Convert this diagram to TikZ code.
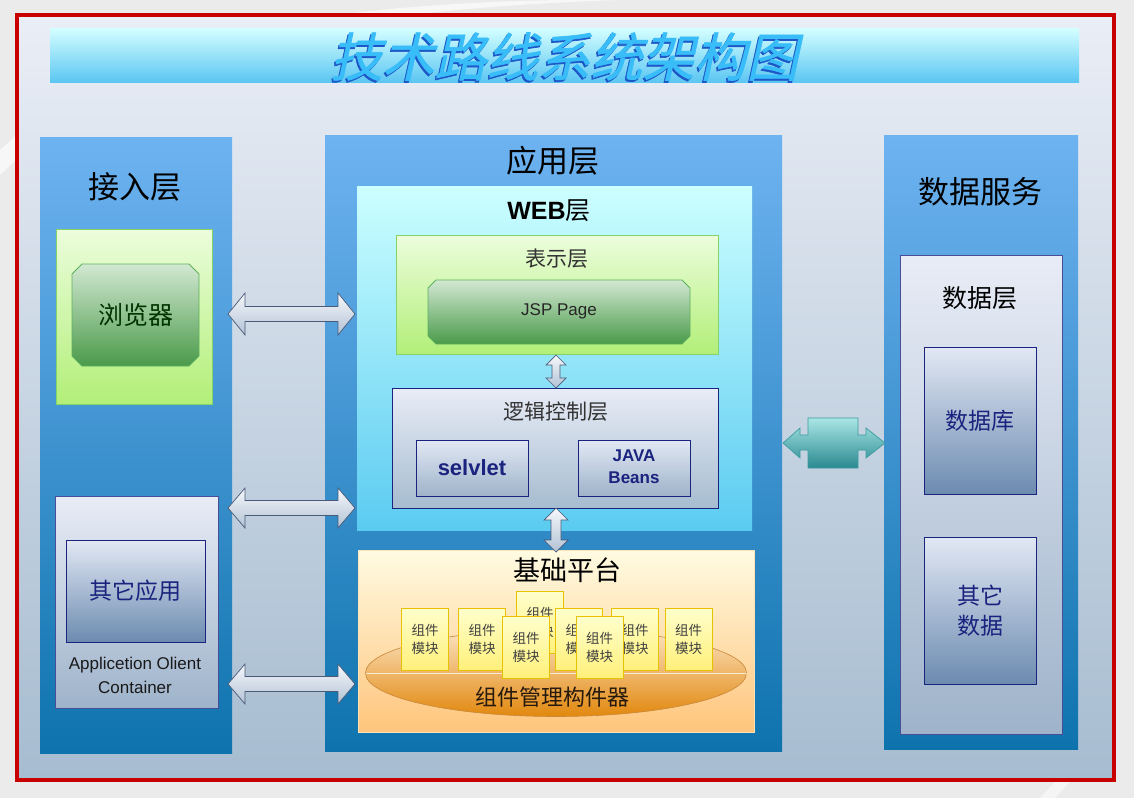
\documentclass[tikz,border=0pt]{standalone}
\usepackage{fontspec}
\setmainfont{Liberation Sans}
\newfontfamily\cjk{Noto Sans CJK SC}
\newfontfamily\cjktitle[FakeSlant=0.22,FakeBold=1.2]{Noto Sans CJK SC}
\usetikzlibrary{calc,fit,shapes.geometric}
\newcommand\setfs[2]{\fontsize{#1}{#2}\selectfont}
\newcommand\dblblockarrow[6]{%
  \path[#1] (#2) -- ($(#2)!#4!(#3)!#6!90:(#3)$) -- ($(#2)!#4!(#3)!#5!90:(#3)$)
   -- ($(#3)!#4!(#2)!#5!-90:(#2)$) -- ($(#3)!#4!(#2)!#6!-90:(#2)$) -- (#3)
   -- ($(#3)!#4!(#2)!#6!90:(#2)$) -- ($(#3)!#4!(#2)!#5!90:(#2)$)
   -- ($(#2)!#4!(#3)!#5!-90:(#3)$) -- ($(#2)!#4!(#3)!#6!-90:(#3)$) -- cycle;}
\definecolor{bgout}{HTML}{EBEBEB}
\definecolor{framered}{HTML}{C80000}
\definecolor{frametop}{HTML}{EAEEF6}
\definecolor{framebot}{HTML}{A6BCD0}
\definecolor{bannertop}{HTML}{D4FFFF}
\definecolor{bannerbot}{HTML}{5CC6F2}
\definecolor{titlefront}{HTML}{38BDF8}
\definecolor{titleshadow}{HTML}{1E58C8}
\definecolor{coltop}{HTML}{6EB3F1}
\definecolor{colbot}{HTML}{0E73AD}
\definecolor{greentop}{HTML}{ECFDDC}
\definecolor{greenbot}{HTML}{B2EF78}
\definecolor{greenline}{HTML}{86D466}
\definecolor{dgtop}{HTML}{D2E8D2}
\definecolor{dgbot}{HTML}{4A9A4A}
\definecolor{dgline}{HTML}{5DB05D}
\definecolor{navy}{HTML}{1A237E}
\definecolor{greytop}{HTML}{E8ECF6}
\definecolor{greybot}{HTML}{9EB3CA}
\definecolor{innertop}{HTML}{E2E8F4}
\definecolor{innerbot}{HTML}{6C8BB0}
\definecolor{webtop}{HTML}{CCFFFF}
\definecolor{webbot}{HTML}{5BCBF1}
\definecolor{basetop}{HTML}{FFFBE2}
\definecolor{basebot}{HTML}{FFC57C}
\definecolor{modtop}{HTML}{FFFFCC}
\definecolor{modbot}{HTML}{FFF07A}
\definecolor{modline}{HTML}{E6C200}
\definecolor{elltop}{HTML}{FBE4C4}
\definecolor{ellmid}{HTML}{F2B66A}
\definecolor{ellbot}{HTML}{E2880E}
\definecolor{ellline}{HTML}{C8883A}
\definecolor{arrtop}{HTML}{F6F8FB}
\definecolor{arrbot}{HTML}{B2C2D5}
\definecolor{arrline}{HTML}{4A5A78}
\definecolor{tealtop}{HTML}{AAE6E6}
\definecolor{tealbot}{HTML}{2A8A90}
\definecolor{tealline}{HTML}{3C9CA2}
\begin{document}
\begin{tikzpicture}[x=1pt,y=-1pt,
  every node/.style={inner sep=0pt,outer sep=0pt},
  col/.style={top color=coltop,bottom color=colbot},
  greenbox/.style={top color=greentop,bottom color=greenbot,draw=greenline,line width=0.8pt},
  greybox/.style={top color=greytop,bottom color=greybot,draw=navy!80,line width=0.7pt},
  innerbox/.style={top color=innertop,bottom color=innerbot,draw=navy,line width=0.7pt},
  coltitle/.style={font=\cjk\setfs{31}{31},text=black},
  module/.style={top color=modtop,bottom color=modbot,draw=modline,line width=0.8pt,
     minimum width=47pt,minimum height=62pt,align=center,font=\cjk\setfs{13.5}{18},text=black!75},
  blockarr/.style={top color=arrtop,bottom color=arrbot,draw=arrline,line width=0.7pt},
  navytext/.style={text=navy}]
\useasboundingbox (0,0) rectangle (1134,798);
\fill[bgout] (0,0) rectangle (1134,798);
% faint background swooshes
\fill[white,opacity=0.6] (0,150) .. controls (120,40) and (300,5) .. (560,0) -- (620,0)
  .. controls (330,10) and (130,50) .. (0,175) -- cycle;
\fill[white,opacity=0.5] (1040,798) -- (1075,760) -- (1090,760) -- (1055,798) -- cycle;
% frame
\node[fit={(17,15)(1114,780)},draw=framered,line width=3.5pt,top color=frametop,bottom color=framebot] (frame) {};
% title banner
\node[fit={(50,28)(1079,82)},top color=bannertop,bottom color=bannerbot] (banner) {};
\node[font=\cjktitle\setfs{52}{52},text=titleshadow] (titleS) at ($(banner.center)+(-1.5,3.5)$) {技术路线系统架构图};
\node[font=\cjktitle\setfs{52}{52},text=titlefront] (title) at ($(banner.center)+(0,1.5)$) {技术路线系统架构图};
% columns
\node[fit={(40,137)(232,753)},col] (access) {};
\node[fit={(325,135)(782,751)},col] (app) {};
\node[fit={(884,135)(1078,749)},col] (data) {};
\node[coltitle] (accessT) at (135,187) {接入层};
\node[coltitle] (appT) at (553,161) {应用层};
\node[coltitle] (dataT) at (980,192) {数据服务};
% access layer
\node[fit={(56,229)(212,404)},greenbox] (green) {};
\node[fit={(72,264)(199,366)}] (browser) {};
\path[top color=dgtop,bottom color=dgbot,draw=dgline,line width=0.8pt]
  ($(browser.north west)+(10,0)$) -- ($(browser.north east)+(-10,0)$) -- ($(browser.north east)+(0,10)$)
  -- ($(browser.south east)+(0,-10)$) -- ($(browser.south east)+(-10,0)$) -- ($(browser.south west)+(10,0)$)
  -- ($(browser.south west)+(0,-10)$) -- ($(browser.north west)+(0,10)$) -- cycle;
\node[font=\cjk\setfs{25}{25},text=black!80!green] (browserT) at (browser.center) {浏览器};
\node[fit={(55,496)(218,708)},greybox] (client) {};
\node[fit={(66,540)(205,642)},innerbox] (otherapp) {};
\node[font=\cjk\setfs{23}{23},navytext] (otherappT) at (otherapp.center) {其它应用};
\node[font=\setfs{17}{24},align=center,text=black!90] (clientT) at (135,675) {Applicetion Olient\\Container};
% web layer
\node[fit={(357,186)(752,530)},top color=webtop,bottom color=webbot] (web) {};
\node[font=\setfs{25}{25}] (webT) at (549,211) {\textbf{WEB}{\cjk 层}};
\node[fit={(396,235)(718,354)},greenbox] (pres) {};
\node[font=\cjk\setfs{21}{21},text=black!80] (presT) at (557,259) {表示层};
\node[fit={(428,280)(690,344)}] (jsp) {};
\path[top color=dgtop,bottom color=dgbot,draw=dgline,line width=0.8pt]
  ($(jsp.north west)+(8,0)$) -- ($(jsp.north east)+(-8,0)$) -- ($(jsp.north east)+(0,8)$)
  -- ($(jsp.south east)+(0,-8)$) -- ($(jsp.south east)+(-8,0)$) -- ($(jsp.south west)+(8,0)$)
  -- ($(jsp.south west)+(0,-8)$) -- ($(jsp.north west)+(0,8)$) -- cycle;
\node[font=\setfs{17}{17},text=black!85] (jspT) at (559,311) {JSP Page};
\node[fit={(392,388)(718,508)},top color=greytop,bottom color=framebot,draw=navy,line width=0.7pt] (logic) {};
\node[font=\cjk\setfs{21}{21},text=black!80] (logicT) at (556,412) {逻辑控制层};
\node[fit={(416,440)(528,496)},top color=innertop,bottom color=greybot,draw=navy,line width=0.7pt] (servlet) {};
\node[font=\bfseries\setfs{22}{22},navytext] (servletT) at (servlet.center) {selvlet};
\node[fit={(578,440)(690,496)},top color=innertop,bottom color=greybot,draw=navy,line width=0.7pt] (beans) {};
\node[font=\bfseries\setfs{17}{22},align=center,navytext] (beansT) at (634,467) {JAVA\\Beans};
% base platform
\node[fit={(358,550)(754,732)},top color=basetop,bottom color=basebot,draw=basetop!80!orange,line width=0.5pt] (base) {};
\node[font=\cjk\setfs{27}{27}] (baseT) at (567,570) {基础平台};
\node[ellipse,minimum width=381pt,minimum height=87pt,top color=elltop,middle color=ellmid,bottom color=ellbot,draw=ellline,line width=0.6pt] (mgr) at (556,673) {};
\draw[white,opacity=0.7,line width=1pt] (mgr.west) -- (mgr.east);
\node[font=\cjk\setfs{22}{22},text=black!80!brown] (mgrT) at (552,697) {组件管理构件器};
\node[module] (m3) at (540,622.5) {组件\\模块};
\node[module] (m1) at (425,639) {组件\\模块};
\node[module] (m2) at (482,639) {组件\\模块};
\node[module] (m4) at (579,639) {组件\\模块};
\node[module] (m5) at (635,639) {组件\\模块};
\node[module] (m6) at (688.5,639) {组件\\模块};
\node[module] (m7) at (526,647) {组件\\模块};
\node[module] (m8) at (599.5,647) {组件\\模块};
% data column
\node[fit={(900,255)(1062,734)},greybox] (dlayer) {};
\node[font=\cjk\setfs{25}{25}] (dlayerT) at (980,298) {数据层};
\node[fit={(924,347)(1036,494)},innerbox] (db) {};
\node[font=\cjk\setfs{23}{23},navytext] (dbT) at (db.center) {数据库};
\node[fit={(924,537)(1036,684)},innerbox] (odata) {};
\node[font=\cjk\setfs{23}{30},align=center,navytext] (odataT) at (odata.center) {其它\\数据};
% horizontal block arrows
\coordinate (h1) at (0,314);
\coordinate (h3) at (0,684);
\coordinate (h1a) at ($(access.east |- h1)+(-4,0)$);
\coordinate (h1b) at ($(web.west |- h1)+(-2,0)$);
\dblblockarrow{blockarr}{h1a}{h1b}{17pt}{7.5pt}{21pt}
\coordinate (h2a) at ($(access.east |- logic.south)+(-4,0)$);
\coordinate (h2b) at ($(web.west |- logic.south)+(-2,0)$);
\dblblockarrow{blockarr}{h2a}{h2b}{17pt}{7.5pt}{20pt}
\coordinate (h3a) at ($(access.east |- h3)+(-4,0)$);
\coordinate (h3b) at ($(base.west |- h3)+(-3,0)$);
\dblblockarrow{blockarr}{h3a}{h3b}{17pt}{7.5pt}{20pt}
% vertical arrows
\coordinate (v1a) at ($(pres.south)+(-1,1)$);
\coordinate (v1b) at ($(pres.south |- logic.north)+(-1,0)$);
\dblblockarrow{blockarr}{v1a}{v1b}{10pt}{4pt}{10pt}
\coordinate (v2a) at ($(logic.south)+(1,0)$);
\coordinate (v2b) at ($(logic.south |- base.north)+(1,2)$);
\dblblockarrow{blockarr}{v2a}{v2b}{12pt}{5pt}{12pt}
% teal arrow to data service
\coordinate (tealL) at ($(app.east |- 0,443)+(1,0)$);
\coordinate (tealR) at ($(data.west |- tealL)+(1,0)$);
\path[top color=tealtop,bottom color=tealbot,draw=tealline,line width=0.7pt]
  (tealL) -- ++(17,-15) -- ++(0,7) -- ++(8,0) -- ++(0,-17) -- ++(50,0) -- ++(0,17) -- ++(8,0) -- ++(0,-7)
  -- (tealR) -- ++(-19,15) -- ++(0,-8) -- ++(-8,0) -- ++(0,18) -- ++(-50,0) -- ++(0,-18) -- ++(-8,0) -- ++(0,8) -- cycle;
\end{tikzpicture}
\end{document}
